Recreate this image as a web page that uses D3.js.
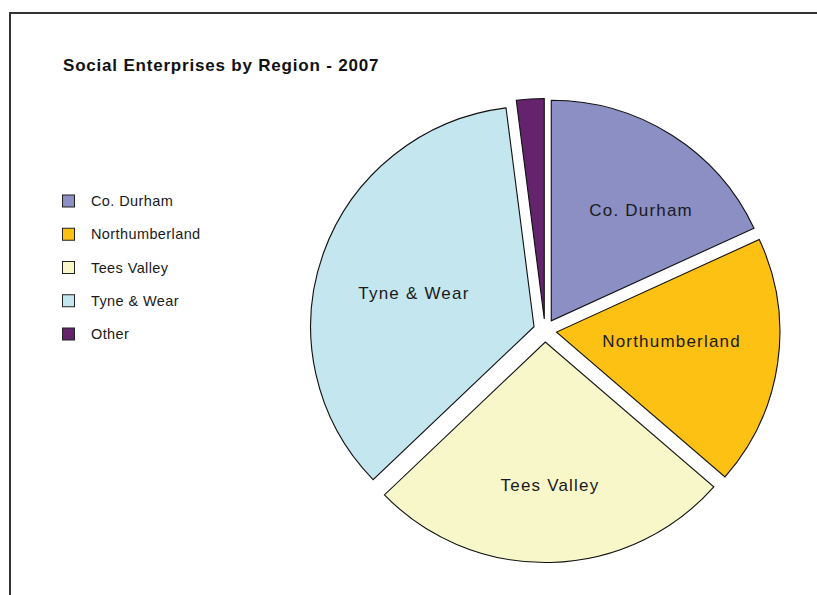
<!DOCTYPE html>
<html>
<head>
<meta charset="utf-8">
<script src="https://cdn.jsdelivr.net/npm/d3@7"></script>
<style>
  html, body { margin: 0; padding: 0; background: #fff; }
  svg { display: block; font-family: "Liberation Sans", Arial, Helvetica, sans-serif; }
</style>
</head>
<body>
<svg id="chart" width="817" height="595"></svg>
<script>
// ---- data ----
const title = "Social Enterprises by Region - 2007";
const regions = ["Co. Durham", "Northumberland", "Tees Valley", "Tyne & Wear", "Other"];
const shares = [18.1, 18.3, 26.4, 35.2, 2.0];
const colors = ["#8b8fc4", "#fdc113", "#f8f7ca", "#c4e6ef", "#64236c"];

// ---- layout ----
const W = 817, H = 595;
const cx = 545, cy = 330.5, R = 220.5, explode = 11.5, xStretch = 1.013;

const svg = d3.select("#chart");

// frame (partially visible)
svg.append("path")
  .attr("d", `M10,${H + 5} L10,13 L${W + 5},13`)
  .attr("fill", "none").attr("stroke", "#333").attr("stroke-width", 2);

svg.append("text")
  .attr("x", 63).attr("y", 71)
  .attr("font-size", 17).attr("font-weight", "bold").attr("fill", "#111")
  .attr("letter-spacing", 0.8)
  .text(title);

// legend
const legend = svg.append("g");
const legendY = d3.scalePoint().domain(regions).range([201, 334]);
regions.forEach((r, i) => {
  const y = legendY(r);
  legend.append("rect")
    .attr("x", 62.5).attr("y", y - 6).attr("width", 12).attr("height", 12)
    .attr("fill", colors[i]).attr("stroke", "#222").attr("stroke-width", 1);
  legend.append("text")
    .attr("x", 91).attr("y", y + 5)
    .attr("font-size", 14.5).attr("fill", "#1a1a1a")
    .attr("letter-spacing", 0.4)
    .text(r);
});

// pie
const pie = d3.pie().sort(null).value(d => d)(shares);
const arc = d3.arc().innerRadius(0).outerRadius(R);
const color = d3.scaleOrdinal().domain(regions).range(colors);

const g = svg.append("g").attr("transform", `translate(${cx},${cy}) scale(${xStretch},1)`);
pie.forEach((p, i) => {
  const mid = (p.startAngle + p.endAngle) / 2;
  const ox = Math.sin(mid) * explode, oy = -Math.cos(mid) * explode;
  g.append("path")
    .attr("transform", `translate(${ox},${oy})`)
    .attr("d", arc(p))
    .attr("fill", color(regions[i]))
    .attr("stroke", "#111").attr("stroke-width", 1.1)
    .attr("stroke-linejoin", "miter");
});

// slice labels (skip tiny slice), placed so the text box stays inside its wedge
const lbl = svg.append("g");
pie.forEach((p, i) => {
  if (shares[i] < 5) return;
  const mid0 = (p.startAngle + p.endAngle) / 2;
  const mid = mid0 + (7 * Math.PI / 180) * Math.sin(2 * mid0);
  const t = lbl.append("text")
    .attr("font-size", 17).attr("fill", "#1a1a1a")
    .attr("letter-spacing", 1.2)
    .attr("text-anchor", "middle")
    .text(regions[i]);
  const w = t.node().getComputedTextLength();
  const d = 0.712 * R - 0.23 * w * Math.pow(Math.abs(Math.sin(mid)), 3);
  const x = cx + Math.sin(mid) * d * xStretch;
  const y = cy - Math.cos(mid) * d;
  t.attr("x", x).attr("y", y + 3.5);
});
</script>
</body>
</html>
